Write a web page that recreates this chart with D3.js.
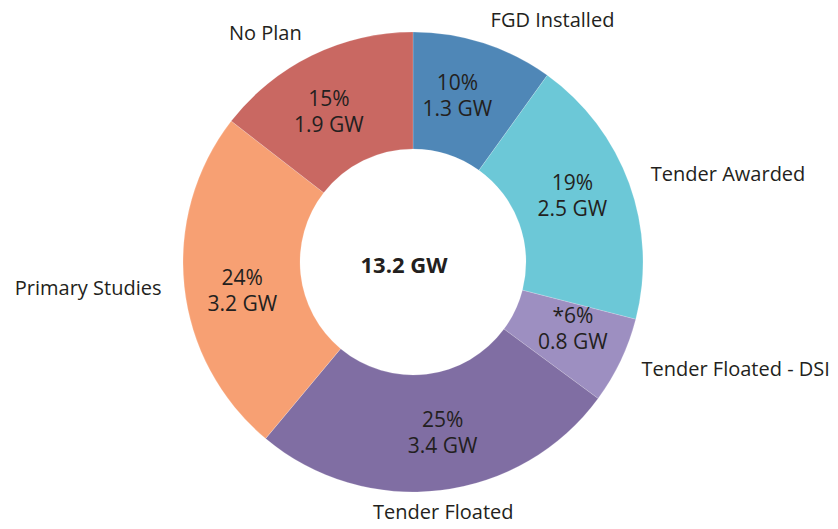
<!DOCTYPE html>
<html>
<head>
<meta charset="utf-8">
<script src="https://cdn.jsdelivr.net/npm/d3@7/dist/d3.min.js"></script>
<style>
  html, body { margin: 0; padding: 0; background: #fff; }
  svg { display: block; }
  text { font-family: "Open Sans", "Noto Sans", sans-serif; fill: #231f20; }
</style>
</head>
<body>
<svg id="chart" width="838" height="529"></svg>
<script>
const categories = ["FGD Installed", "Tender Awarded", "Tender Floated - DSI", "Tender Floated", "Primary Studies", "No Plan"];
const values = [1.3, 2.5, 0.8, 3.4, 3.2, 1.9];
const percentLabels = ["10%", "19%", "*6%", "25%", "24%", "15%"];
const valueLabels = ["1.3 GW", "2.5 GW", "0.8 GW", "3.4 GW", "3.2 GW", "1.9 GW"];
const colors = ["#4f87b7", "#6cc8d7", "#9d8fc1", "#806ea3", "#f7a073", "#c96862"];
const totalLabel = "13.2 GW";

const cx = 413, cy = 262;
const outerR = 230, innerR = 113;
const labelR = 173, outerLabelR = 253;
const innerShift = -3 * Math.PI / 180;

const svg = d3.select("#chart");
const g = svg.append("g").attr("transform", `translate(${cx},${cy})`);

const data = categories.map((c, i) => ({ cat: c, value: values[i], pct: percentLabels[i], gw: valueLabels[i], color: colors[i] }));

const pie = d3.pie().value(d => d.value).sort(null);
const arcs = pie(data);
const arc = d3.arc().innerRadius(innerR).outerRadius(outerR);
const polar = (r, a) => [r * Math.sin(a), -r * Math.cos(a)];
const mid = d => (d.startAngle + d.endAngle) / 2;

g.selectAll("path.slice")
  .data(arcs)
  .join("path")
  .attr("class", "slice")
  .attr("d", arc)
  .attr("fill", d => d.data.color)
  .attr("stroke", "#ffffff")
  .attr("stroke-width", 0.3)
  .attr("stroke-opacity", 0.6);

// inner labels
const inner = g.selectAll("text.inner")
  .data(arcs)
  .join("text")
  .attr("class", "inner")
  .attr("text-anchor", "middle")
  .attr("font-size", 21)
  .attr("transform", d => `translate(${polar(labelR, mid(d) + innerShift)})`);
inner.append("tspan").attr("x", 0).attr("y", -5).text(d => d.data.pct);
inner.append("tspan").attr("x", 0).attr("y", 21).text(d => d.data.gw);

// outer category labels
g.selectAll("text.outer")
  .data(arcs)
  .join("text")
  .attr("class", "outer")
  .attr("font-size", 20)
  .attr("dominant-baseline", "middle")
  .attr("text-anchor", d => {
    const s = Math.sin(mid(d));
    return s > 0.3 ? "start" : (s < -0.3 ? "end" : "middle");
  })
  .attr("transform", d => `translate(${polar(outerLabelR, mid(d))})`)
  .text(d => d.data.cat);

// center total
g.append("text")
  .attr("text-anchor", "middle")
  .attr("dominant-baseline", "middle")
  .attr("font-size", 22)
  .attr("font-weight", "bold")
  .attr("x", -9)
  .attr("y", 5)
  .text(totalLabel);
</script>
</body>
</html>
